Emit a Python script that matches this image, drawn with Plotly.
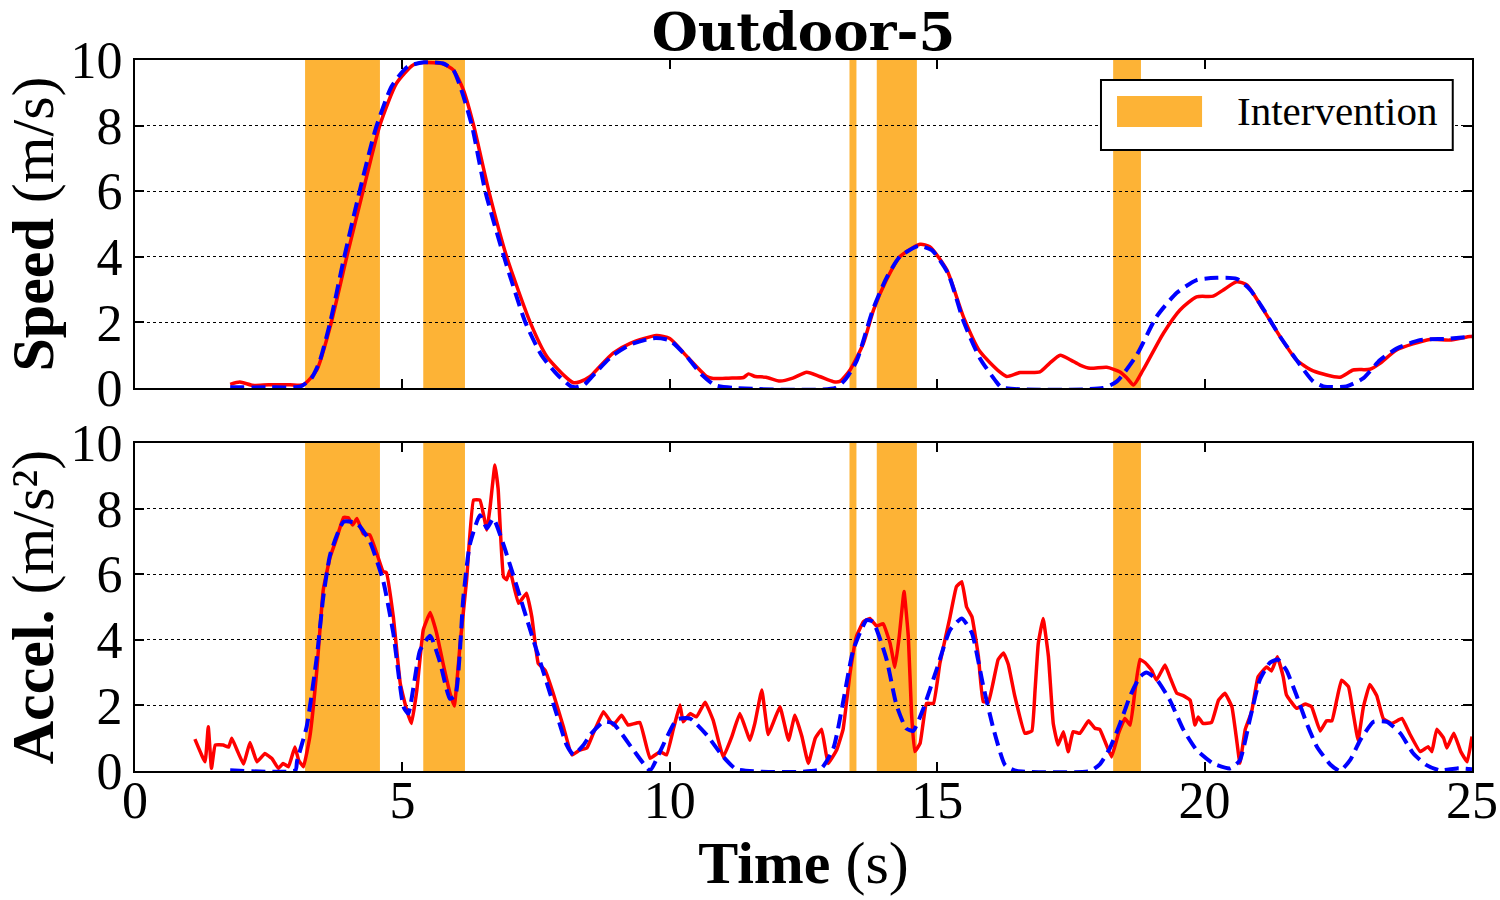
import plotly.graph_objects as go

# ---------------- data ----------------
interv_start = [3.18, 5.39, 13.36, 13.87, 18.29]
interv_end = [4.58, 6.17, 13.49, 14.62, 18.81]

t_speed_ref = [1.78, 2.5, 3.1, 3.3, 3.45, 3.65, 3.9, 4.2, 4.5, 4.8, 5.1, 5.4, 5.75, 5.95, 6.1, 6.3,
               6.55, 6.9, 7.3, 7.6, 7.9, 8.15, 8.25, 8.4, 8.63, 8.94, 9.26, 9.7, 10.0, 10.32, 10.6,
               10.85, 11.2, 13.1, 13.3, 13.5, 13.8, 14.05, 14.3, 14.65, 14.9, 15.2, 15.5, 15.8, 16.1,
               16.2, 18.1, 18.36, 18.73, 19.1, 19.48, 19.85, 20.23, 20.6, 20.85, 21.1, 21.41, 21.72,
               22.03, 22.22, 22.65, 22.97, 23.28, 23.59, 24.02, 24.52, 25.0]
speed_ref = [0.02, 0.02, 0.05, 0.3, 0.8, 2.0, 3.9, 6.0, 7.9, 9.2, 9.8, 9.93, 9.9, 9.7, 9.1, 8.0,
             6.0, 4.0, 2.0, 1.0, 0.4, 0.05, 0.02, 0.1, 0.5, 1.0, 1.32, 1.52, 1.45, 0.95, 0.4,
             0.08, 0.0, 0.0, 0.3, 0.85, 2.4, 3.35, 4.0, 4.33, 4.2, 3.5, 2.0, 0.9, 0.2,
             0.02, 0.0, 0.2, 1.0, 2.17, 2.9, 3.29, 3.36, 3.33, 3.0, 2.4, 1.57, 0.85,
             0.2, 0.05, 0.05, 0.3, 0.85, 1.2, 1.46, 1.5, 1.57]

t_speed_meas = [1.78, 1.96, 2.2, 2.5, 2.9, 3.15, 3.4, 3.65, 3.96, 4.27, 4.58, 4.89, 5.2, 5.39, 5.76,
                5.95, 6.14, 6.33, 6.61, 6.95, 7.39, 7.7, 8.01, 8.2, 8.32, 8.51, 8.63, 8.94, 9.26, 9.75,
                10.0, 10.32, 10.69, 10.81, 11.1, 11.38, 11.47, 11.6, 11.8, 12.06, 12.3, 12.56, 12.8,
                13.06, 13.18, 13.37, 13.62, 13.81, 14.05, 14.3, 14.68, 14.86, 15.18, 15.49, 15.8,
                16.17, 16.3, 16.55, 16.92, 17.1, 17.3, 17.5, 17.67, 17.86, 18.17, 18.42, 18.55, 18.67,
                18.85, 19.23, 19.54, 19.85, 20.16, 20.35, 20.6, 20.79, 21.1, 21.41, 21.72, 22.03,
                22.53, 22.78, 23.09, 23.28, 23.59, 24.21, 24.58, 24.96, 25.0]
speed_meas = [0.11, 0.18, 0.08, 0.1, 0.1, 0.1, 0.55, 1.87, 4.0, 6.04, 8.02, 9.29, 9.85, 9.92, 9.88,
              9.7, 9.09, 8.02, 6.04, 4.0, 2.0, 0.96, 0.4, 0.16, 0.19, 0.35, 0.55, 1.06, 1.36, 1.6,
              1.51, 0.96, 0.35, 0.29, 0.3, 0.32, 0.43, 0.35, 0.33, 0.21, 0.3, 0.48, 0.35,
              0.19, 0.2, 0.55, 1.36, 2.38, 3.29, 4.0, 4.38, 4.31, 3.6, 2.17, 1.11,
              0.49, 0.35, 0.47, 0.49, 0.75, 1.0, 0.85, 0.7, 0.6, 0.63, 0.49, 0.3, 0.09,
              0.55, 1.67, 2.38, 2.78, 2.8, 2.99, 3.24, 3.14, 2.38, 1.57, 0.85, 0.52,
              0.33, 0.55, 0.57, 0.75, 1.16, 1.48, 1.46, 1.57, 1.57]

t_acc_ref = [1.78, 3.0, 3.03, 3.21, 3.4, 3.52, 3.65, 3.9, 4.15, 4.39, 4.64, 4.83, 5.02, 5.11, 5.33,
             5.52, 5.7, 5.89, 5.99, 6.14, 6.26, 6.45, 6.58, 6.7, 6.89, 7.14, 7.39, 7.64, 7.89, 8.07,
             8.2, 8.39, 8.51, 8.76, 8.94, 9.32, 9.63, 9.82, 10.13, 10.38, 10.69, 11.0, 11.25, 12.81,
             13.06, 13.24, 13.43, 13.68, 13.8, 14.05, 14.24, 14.42, 14.55, 14.74, 14.99, 15.24,
             15.46, 15.65, 15.86, 16.05, 16.27, 16.49, 17.86, 18.04, 18.23, 18.42, 18.61, 18.79,
             18.91, 19.1, 19.35, 19.6, 19.85, 20.16, 20.48, 20.66, 20.85, 21.03, 21.22, 21.37,
             21.53, 21.72, 21.91, 22.1, 22.35, 22.53, 22.72, 22.91, 23.16, 23.41, 23.66, 23.9,
             24.15, 24.4, 24.72, 25.0]
acc_ref = [0.02, 0.02, 0.3, 1.35, 3.48, 5.3, 6.6, 7.6, 7.55, 7.0, 5.8, 4.2, 1.96, 1.75, 3.68,
           4.12, 3.33, 2.2, 2.3, 5.3, 6.9, 7.8, 7.4, 7.7, 6.9, 5.62, 4.3, 3.0, 1.7, 0.8,
           0.5, 0.8, 1.1, 1.5, 1.45, 0.64, 0.02, 0.6, 1.57, 1.6, 1.1, 0.43, 0.05, 0.05,
           0.7, 2.1, 3.69, 4.6, 4.55, 3.42, 2.0, 1.3, 1.22, 1.9, 3.1, 4.3,
           4.65, 4.2, 2.6, 1.3, 0.18, 0.0, 0.0, 0.2, 0.7, 1.45, 2.3, 2.87,
           3.0, 2.8, 2.16, 1.27, 0.64, 0.23, 0.08, 0.33, 1.6, 2.77, 3.3, 3.4,
           3.07, 2.3, 1.45, 0.74, 0.2, 0.0, 0.33, 0.94, 1.5, 1.5, 1.15, 0.54,
           0.18, 0.02, 0.08, 0.05]

t_acc_meas = [1.12, 1.31, 1.37, 1.43, 1.5, 1.65, 1.75, 1.81, 1.9, 2.03, 2.15, 2.28, 2.43, 2.56, 2.68,
              2.77, 2.87, 2.99, 3.06, 3.15, 3.27, 3.4, 3.52, 3.65, 3.77, 3.9, 3.99, 4.07, 4.15, 4.27,
              4.39, 4.52, 4.64, 4.7, 4.83, 4.96, 5.08, 5.17, 5.27, 5.39, 5.52, 5.64, 5.76, 5.89, 5.97,
              6.08, 6.2, 6.33, 6.45, 6.58, 6.64, 6.73, 6.79, 6.89, 6.95, 7.01, 7.17, 7.32, 7.42, 7.54,
              7.67, 7.82, 8.01, 8.17, 8.32, 8.45, 8.57, 8.76, 8.94, 9.1, 9.22, 9.44, 9.63, 9.82, 9.94,
              10.07, 10.19, 10.25, 10.38, 10.5, 10.66, 10.81, 11.0, 11.16, 11.31, 11.5, 11.59, 11.72,
              11.84, 11.94, 12.06, 12.22, 12.34, 12.47, 12.59, 12.72, 12.84, 12.96, 13.12, 13.24,
              13.37, 13.49, 13.62, 13.74, 13.87, 13.99, 14.12, 14.21, 14.29, 14.38, 14.46, 14.52,
              14.58, 14.68, 14.8, 14.93, 15.05, 15.24, 15.36, 15.46, 15.55, 15.65, 15.77, 15.86,
              15.96, 16.14, 16.24, 16.33, 16.45, 16.64, 16.77, 16.83, 16.89, 16.98, 17.08, 17.17,
              17.26, 17.36, 17.45, 17.54, 17.67, 17.83, 17.95, 18.04, 18.14, 18.26, 18.39, 18.51,
              18.61, 18.7, 18.79, 18.89, 19.01, 19.1, 19.26, 19.35, 19.48, 19.6, 19.73, 19.82, 19.88,
              19.97, 20.13, 20.26, 20.38, 20.51, 20.6, 20.66, 20.76, 20.88, 21.0, 21.16, 21.25, 21.36,
              21.47, 21.53, 21.72, 21.88, 22.0, 22.16, 22.28, 22.38, 22.47, 22.56, 22.69, 22.78,
              22.87, 22.97, 23.09, 23.22, 23.34, 23.5, 23.69, 23.84, 24.03, 24.18, 24.25, 24.34,
              24.47, 24.53, 24.66, 24.79, 24.91, 25.0]
acc_meas = [0.97, 0.28, 1.35, 0.08, 0.79, 0.79, 0.73, 1.0, 0.67, 0.21, 0.87, 0.28, 0.53, 0.38, 0.08,
            0.23, 0.13, 0.73, 0.33, 0.13, 1.05, 3.08, 5.52, 6.53, 7.09, 7.73, 7.72, 7.5, 7.7, 7.23,
            7.2, 6.64, 6.08, 6.05, 4.7, 2.67, 1.86, 1.45, 2.47, 4.3, 4.83, 4.2, 3.28, 2.37, 1.98,
            3.89, 5.82, 8.26, 8.26, 7.35, 8.05, 9.33, 8.6, 5.92, 5.83, 6.13, 5.11, 5.42, 4.7, 3.28,
            3.07, 2.37, 1.35, 0.49, 0.64, 0.7, 1.15, 1.81, 1.4, 1.7, 1.4, 1.48, 0.39, 0.59, 0.49,
            1.3, 2.01, 1.5, 1.75, 1.65, 2.1, 1.55, 0.43, 1.05, 1.75, 0.94, 1.45, 2.47,
            1.11, 1.5, 1.96, 0.94, 1.7, 1.05, 0.23, 1.0, 1.27, 0.23, 0.64, 1.27,
            2.98, 4.1, 4.55, 4.65, 4.42, 4.49, 3.89, 3.16, 4.1, 5.47, 4.1, 1.75,
            0.59, 0.84, 2.06, 2.06, 3.28, 4.7, 5.62, 5.77, 5.0, 4.7, 3.5, 2.11,
            2.11, 3.4, 3.6, 3.25, 2.29, 1.15, 1.22, 2.47, 3.89, 4.65, 3.49, 1.45,
            0.79, 1.2, 0.59, 1.2, 1.15, 1.53, 1.3, 1.27, 0.89, 0.43, 1.15, 1.6,
            1.4, 2.47, 3.4, 3.3, 3.07, 2.77, 3.23, 2.87, 2.37, 2.3, 2.16, 1.4, 1.65,
            1.45, 1.48, 2.16, 2.37, 1.96, 0.94, 0.23, 1.27, 1.81, 2.87, 3.17, 3.05, 3.48,
            2.87, 2.32, 1.91, 2.04, 1.96, 1.22, 1.53, 1.53, 2.16, 2.77, 2.57, 1.75,
            0.94, 1.96, 2.64, 2.29, 1.6, 1.45, 1.6, 1.12, 0.59, 0.74, 0.59, 1.27,
            1.0, 0.7, 1.15, 0.59, 0.28, 1.05]

x_ticks = [0, 5, 10, 15, 20, 25]
y_ticks = [0, 2, 4, 6, 8, 10]
legend_label = "Intervention"

# ---------------- styles ----------------
ORANGE = "#fdb336"
FONT = "Liberation Serif"
TICK_SIZE = 52
LABEL_SIZE = 60

fig = go.Figure()

# intervention spans (drawn below gridlines)
for s, e in zip(interv_start, interv_end):
    for xr, yr in (("x", "y domain"), ("x2", "y2 domain")):
        fig.add_shape(type="rect", xref=xr, yref=yr, x0=s, x1=e, y0=0, y1=1,
                      fillcolor=ORANGE, line=dict(width=0), layer="below")

fig.add_trace(go.Scatter(x=t_speed_meas, y=speed_meas, mode="lines",
                         line=dict(color="#ff0000", width=3.5, shape="spline", smoothing=0.6),
                         xaxis="x", yaxis="y", showlegend=False))
fig.add_trace(go.Scatter(x=t_speed_ref, y=speed_ref, mode="lines",
                         line=dict(color="#0000ff", width=4, dash="14px,7px", shape="spline",
                                   smoothing=0.6),
                         xaxis="x", yaxis="y", showlegend=False))
fig.add_trace(go.Scatter(x=t_acc_meas, y=acc_meas, mode="lines",
                         line=dict(color="#ff0000", width=3.5, shape="spline", smoothing=0.3),
                         xaxis="x2", yaxis="y2", showlegend=False))
fig.add_trace(go.Scatter(x=t_acc_ref, y=acc_ref, mode="lines",
                         line=dict(color="#0000ff", width=4, dash="14px,7px", shape="spline",
                                   smoothing=0.5),
                         xaxis="x2", yaxis="y2", showlegend=False))

top_dom = [0.5387, 1.0]
bot_dom = [0.0, 0.4613]

common_x = dict(range=[0, 25], tickvals=x_ticks, ticks="inside", ticklen=9, tickwidth=1.5,
                tickcolor="black", showline=True, linecolor="black", linewidth=2,
                mirror="allticks", showgrid=False, zeroline=False, automargin=False,
                tickfont=dict(family=FONT, size=TICK_SIZE, color="black"))
common_y = dict(range=[0, 10], tickvals=y_ticks, ticks="inside", ticklen=9, tickwidth=1.5,
                tickcolor="black", showline=True, linecolor="black", linewidth=2,
                mirror="allticks", showgrid=True, gridcolor="black", gridwidth=1,
                griddash="dot", zeroline=False, automargin=False,
                tickfont=dict(family=FONT, size=TICK_SIZE, color="black"))

# legend box (drawn in paper coordinates, as in the reference)
fig.add_shape(type="rect", xref="paper", yref="paper", x0=0.7225, x1=0.9856, y0=0.8734,
              y1=0.9719, fillcolor="white", line=dict(color="black", width=2), layer="above")
fig.add_shape(type="rect", xref="paper", yref="paper", x0=0.7345, x1=0.7981, y0=0.9058,
              y1=0.9494, fillcolor=ORANGE, line=dict(width=0), layer="above")
fig.add_annotation(xref="paper", yref="paper", x=0.8227, y=0.9276, xanchor="left",
                   yanchor="middle", text=legend_label, showarrow=False,
                   font=dict(family=FONT, size=41, color="black"))

fig.update_layout(
    width=1500, height=900,
    margin=dict(l=135, r=28, t=60, b=129, autoexpand=False),
    paper_bgcolor="white", plot_bgcolor="white",
    font=dict(family=FONT, color="black"),
    showlegend=False,
    title=dict(text="<b>Outdoor-5</b>", x=0.5, xref="paper", xanchor="center",
               y=1 - 31 / 900, yref="container", yanchor="middle",
               font=dict(family="DejaVu Serif", size=53, color="black")),
    xaxis=dict(common_x, domain=[0, 1], anchor="y", showticklabels=False),
    yaxis=dict(common_y, domain=top_dom, anchor="x",
               title=dict(text="<b>Speed</b> (m/s)", standoff=12,
                          font=dict(family=FONT, size=LABEL_SIZE, color="black"))),
    xaxis2=dict(common_x, domain=[0, 1], anchor="y2", matches="x", ticklabelstandoff=-17,
                title=dict(text="<b>Time</b> (s)", standoff=13,
                           font=dict(family=FONT, size=LABEL_SIZE, color="black"))),
    yaxis2=dict(common_y, domain=bot_dom, anchor="x2",
                title=dict(text="<b>Accel.</b> (m/s²)", standoff=12,
                           font=dict(family=FONT, size=LABEL_SIZE, color="black"))),
)

fig.write_html("out.html")
